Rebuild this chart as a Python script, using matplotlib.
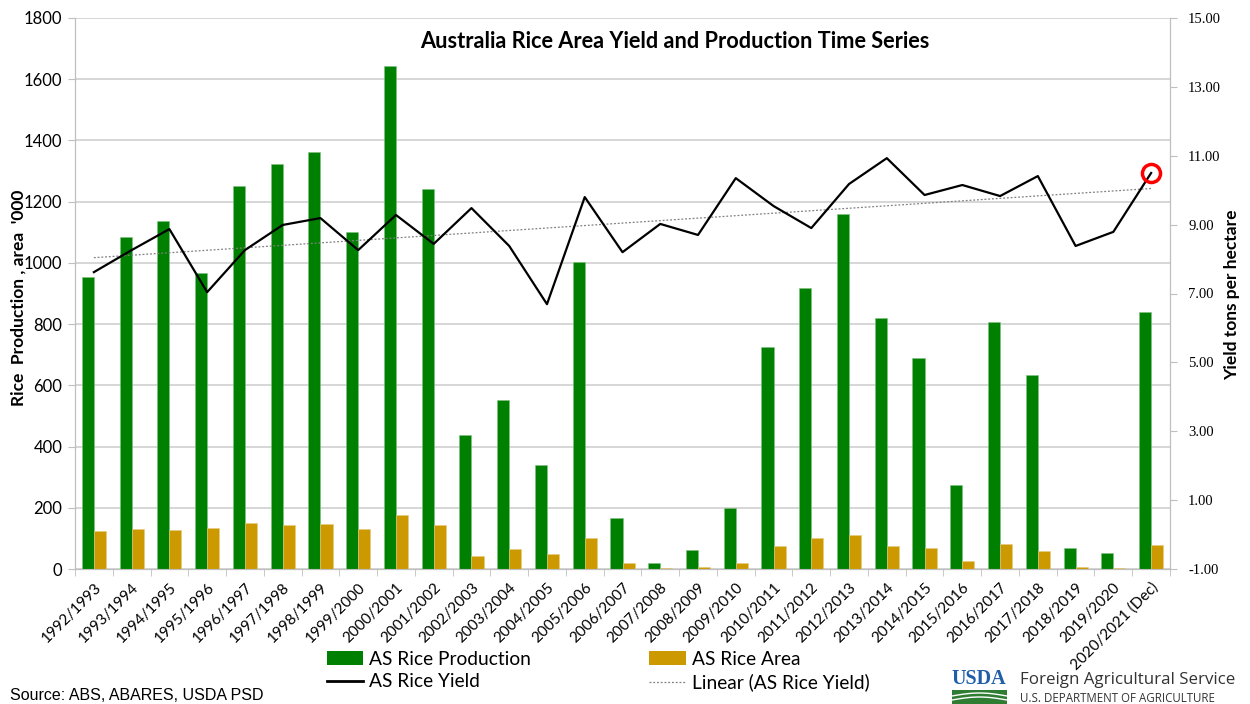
import numpy as np
import matplotlib
matplotlib.use("Agg")
import matplotlib.pyplot as plt
from matplotlib.patches import Rectangle, Patch
from matplotlib.lines import Line2D
from matplotlib.ticker import FixedLocator, FormatStrFormatter

seasons = ["1992/1993", "1993/1994", "1994/1995", "1995/1996", "1996/1997", "1997/1998",
           "1998/1999", "1999/2000", "2000/2001", "2001/2002", "2002/2003", "2003/2004",
           "2004/2005", "2005/2006", "2006/2007", "2007/2008", "2008/2009", "2009/2010",
           "2010/2011", "2011/2012", "2012/2013", "2013/2014", "2014/2015", "2015/2016",
           "2016/2017", "2017/2018", "2018/2019", "2019/2020", "2020/2021 (Dec)"]
production = [953, 1083, 1137, 966, 1250, 1323, 1362, 1100, 1643, 1242, 438, 553, 339, 1002,
              166, 19, 61, 199, 724, 919, 1161, 819, 690, 274, 807, 635, 67, 53, 838]
area = [124, 131, 126, 135, 151, 145, 147, 131, 176, 145, 44, 65, 50, 100,
        18, 2, 5, 18, 76, 102, 112, 74, 69, 27, 82, 59, 5, 3, 80]
yield_t = [7.62, 8.26, 8.87, 7.04, 8.26, 8.99, 9.19, 8.26, 9.28, 8.44, 9.48, 8.38, 6.69, 9.80,
           8.20, 9.02, 8.70, 10.35, 9.54, 8.90, 10.18, 10.93, 9.86, 10.15, 9.83, 10.41, 8.38,
           8.79, 10.50]
left_ticks = list(range(0, 1801, 200))
right_ticks = [-1, 1, 3, 5, 7, 9, 11, 13, 15]

GREEN = "#008000"
GOLD = "#CC9900"
CAL = ["Lato", "DejaVu Sans"]

fig = plt.figure(figsize=(12.5, 7.04), dpi=100)
ax = fig.add_axes([75 / 1250, 1 - 569 / 704, (1170 - 75) / 1250, (569 - 18) / 704])
ax2 = ax.twinx()

x = np.arange(len(seasons))
w = 0.32
ax.bar(x - w / 2, production, width=w, color=GREEN, edgecolor="#7fbf7f", linewidth=0.4, zorder=3)
ax.bar(x + w / 2, area, width=w, color=GOLD, edgecolor="#e6cc80", linewidth=0.4, zorder=3)
ax.set_ylim(0, 1800)
ax.set_xlim(-0.5, len(seasons) - 0.5)
ax.yaxis.set_major_locator(FixedLocator(left_ticks))
ax.grid(axis="y", color="#d0d0d0", linewidth=1.2, zorder=0)
ax.set_axisbelow(True)

ax.set_xticks(x)
ax.set_xticklabels(seasons, rotation=45, ha="right", rotation_mode="anchor", fontsize=11,
                   family=CAL)
ax.tick_params(axis="x", which="major", length=0, pad=8)
ax.set_xticks(np.arange(-0.5, len(seasons), 1), minor=True)
ax.tick_params(axis="x", which="minor", length=5, color="#bfbfbf", direction="out")
ax.tick_params(axis="y", length=5, color="#bfbfbf", labelsize=12, pad=4)
for lab in ax.get_yticklabels():
    lab.set_family(CAL)

for sp in ["left", "bottom", "right"]:
    ax.spines[sp].set_color("#bfbfbf")
    ax2.spines[sp].set_color("#bfbfbf")
ax.spines["top"].set_visible(False)
ax2.spines["top"].set_visible(False)

ax2.plot(x, yield_t, color="black", linewidth=1.6, zorder=5)
coef = np.polyfit(x, yield_t, 1)
ax2.plot(x, np.polyval(coef, x), color="#808080", linewidth=0.9, linestyle=(0, (1.5, 1.5)),
         zorder=4)
ax2.plot(x[-1], yield_t[-1], marker="o", markersize=13, markerfacecolor="none",
         markeredgecolor="#ff0000", markeredgewidth=2.5, zorder=6)
ax2.set_ylim(-1, 15)
ax2.yaxis.set_major_locator(FixedLocator(right_ticks))
ax2.yaxis.set_major_formatter(FormatStrFormatter("%.2f"))
ax2.tick_params(axis="y", length=5, color="#bfbfbf", labelsize=10.5, pad=8)
for lab in ax2.get_yticklabels():
    lab.set_family(["Liberation Serif", "DejaVu Serif"])

fig.text(19 / 1250, 1 - 298 / 704, "Rice  Production , area  '000", fontsize=12.5,
         fontweight="bold", family=CAL, rotation=90, ha="center", va="center")
fig.text(1232 / 1250, 1 - 295 / 704, "Yield tons per hectare", fontsize=12.5,
         fontweight="bold", family=CAL, rotation=90, ha="center", va="center")

ax.text(0.548, 0.958, "Australia Rice Area Yield and Production Time Series",
        transform=ax.transAxes, ha="center", va="center", fontsize=15.7, fontweight="bold",
        family=CAL)

handles = [Patch(facecolor=GREEN), Patch(facecolor=GOLD),
           Line2D([0], [0], color="black", lw=2),
           Line2D([0], [0], color="#808080", lw=0.9, linestyle=(0, (1.5, 1.5)))]
labels = ["AS Rice Production", "AS Rice Area", "AS Rice Yield", "Linear (AS Rice Yield)"]
order = [0, 2, 1, 3]
leg = fig.legend([handles[i] for i in order], [labels[i] for i in order], ncol=2,
                 loc="center", bbox_to_anchor=(598 / 1250, 1 - 671 / 704), frameon=False,
                 prop={"family": CAL, "size": 13.8}, columnspacing=6.2, handlelength=1.9,
                 handletextpad=0.3, labelspacing=0.3)

fig.text(10 / 1250, 1 - 695 / 704, "Source: ABS, ABARES, USDA PSD", fontsize=11.5,
         family=["Liberation Sans", "DejaVu Sans"], ha="left", va="center")

# USDA logo approximation
fig.text(951 / 1250, 1 - 679 / 704, "USDA", fontsize=14.5, fontweight="bold",
         family=["Liberation Serif", "DejaVu Serif"], color="#1f5fa8", ha="left", va="center")
fig.patches.append(Rectangle((952 / 1250, 0), 55 / 1250, 14 / 704, transform=fig.transFigure,
                             facecolor="#2e7d32", edgecolor="none"))
xs = np.linspace(952, 1007, 50)
for off in (4, 8):
    ys = off + 3 * np.sin((xs - 952) / 55 * np.pi)
    fig.lines.append(Line2D(xs / 1250, ys / 704, transform=fig.transFigure, color="white", lw=1))
fig.text(1020 / 1250, 1 - 680 / 704, "Foreign Agricultural Service", fontsize=12.2,
         family=["Open Sans", "DejaVu Sans"], color="#333333", ha="left", va="center")
fig.text(1020 / 1250, 1 - 698 / 704, "U.S. DEPARTMENT OF AGRICULTURE", fontsize=8.3,
         family=["Open Sans", "DejaVu Sans"], color="#333333", ha="left", va="center")

fig.savefig("out.png", dpi=100)
